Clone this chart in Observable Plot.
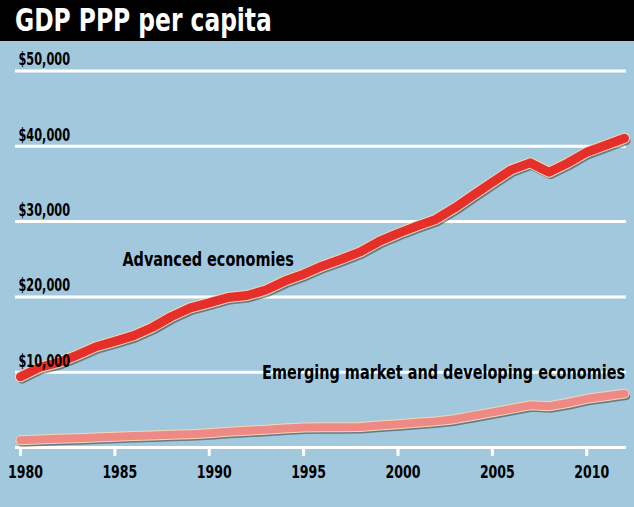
<!DOCTYPE html>
<html>
<head>
<meta charset="utf-8">
<script src="https://cdn.jsdelivr.net/npm/d3@7"></script>
<script src="https://cdn.jsdelivr.net/npm/@observablehq/plot@0.6"></script>
<style>
  html, body { margin: 0; padding: 0; background: #a2c8de; }
  body { width: 634px; height: 507px; overflow: hidden; }
  #title {
    background: #000; color: #fff; height: 41px; line-height: 40px;
    font-family: "DejaVu Sans", sans-serif;
    font-weight: bold; font-size: 32px; padding-left: 15px; box-sizing: border-box;
    white-space: nowrap; overflow: hidden;
  }
  #title span { display: inline-block; transform: scaleX(0.73); transform-origin: left center; }
  #chart svg { display: block; }
</style>
</head>
<body>
<div id="title"><span>GDP PPP per capita</span></div>
<div id="chart"></div>
<script>
const years = d3.range(1980, 2013);
const advanced = [9400, 10630, 11260, 12260, 13380, 14090, 14860, 15970, 17400, 18550,
  19200, 19920, 20190, 20910, 22100, 23010, 24110, 25000, 25980, 27360,
  28440, 29400, 30290, 31810, 33540, 35210, 36870, 37800, 36560, 37780,
  39220, 40140, 41060];
const emerging = [950, 1050, 1150, 1240, 1340, 1430, 1520, 1600, 1690, 1770,
  1900, 2080, 2230, 2360, 2510, 2650, 2700, 2690, 2730, 2920,
  3100, 3280, 3470, 3760, 4210, 4670, 5130, 5600, 5480, 5910,
  6470, 6810, 7150];
const yTicks = [10000, 20000, 30000, 40000, 50000];
const xTicks = [1980, 1985, 1990, 1995, 2000, 2005, 2010];
const seriesLabels = ["Advanced economies", "Emerging market and developing economies"];
const labelYears = [1985.4, 1992.8];
const labelValues = [24970, 9960];

const adv = years.map((y, i) => ({year: y, value: advanced[i]}));
const emg = years.map((y, i) => ({year: y, value: emerging[i]}));
const labels = seriesLabels.map((t, i) => ({text: t, year: labelYears[i], value: labelValues[i]}));

const font = '"DejaVu Sans", sans-serif';
const fmt = d => "$" + d3.format(",")(d);

// condensed look: horizontal squeeze factors for the wide fallback font
const squeeze = {tick: 0.74, ylab: 0.665, label: 0.76};

const lineStyle = (data, color, w) => [
  Plot.line(data, {x: "year", y: "value", stroke: "#3a3a3a", strokeWidth: w, strokeOpacity: 0.55, dx: 1.5, dy: 2.5}),
  Plot.line(data, {x: "year", y: "value", stroke: "#f4d8b4", strokeWidth: w + 2}),
  Plot.line(data, {x: "year", y: "value", stroke: color, strokeWidth: w})
];

const plot = Plot.plot({
  width: 634,
  height: 466,
  marginLeft: 20,
  marginRight: 10,
  marginTop: 29.5,
  marginBottom: 60,
  style: {background: "transparent", fontFamily: font},
  x: {type: "linear", domain: [1980, 2012], axis: null},
  y: {type: "linear", domain: [0, 50000], axis: null},
  marks: [
    Plot.ruleY([0, ...yTicks], {stroke: "#fff", strokeWidth: 3, insetLeft: -5, insetRight: -2}),
    Plot.ruleX(xTicks, {x: d => d, y1: 0, y2: 0, insetTop: 9, insetBottom: 0, stroke: "#fff", strokeWidth: 3}),
    Plot.text(xTicks, {x: d => d, y: 0, text: d => String(d), dx: 5, dy: 25, fill: "#000", fontSize: 17, fontWeight: "bold"}),
    ...lineStyle(emg, "#ee8a86", 8),
    ...lineStyle(adv, "#e52f2b", 9),
    Plot.text(yTicks, {y: d => d, frameAnchor: "left", text: fmt, textAnchor: "start", dx: -2, dy: -11, fill: "#000", fontSize: 17, fontWeight: "bold"}),
    Plot.text(labels, {x: "year", y: "value", text: "text", textAnchor: "start", fill: "#000", fontSize: 19, fontWeight: "bold"})
  ]
});
document.getElementById("chart").appendChild(plot);

d3.select(plot).selectAll("text").each(function() {
  const s = this.textContent;
  const k = /^\d{4}$/.test(s) ? squeeze.tick : s.startsWith("$") ? squeeze.ylab : squeeze.label;
  const w = this.getComputedTextLength();
  this.setAttribute("textLength", (w * k).toFixed(1));
  this.setAttribute("lengthAdjust", "spacingAndGlyphs");
});
</script>
</body>
</html>
